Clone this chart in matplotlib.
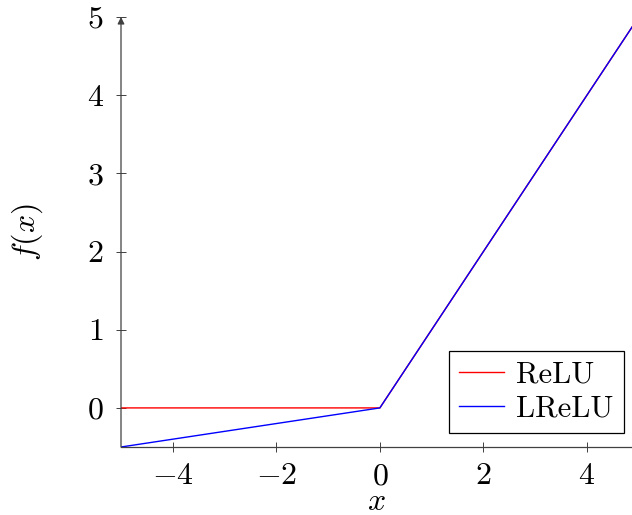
import numpy as np
import matplotlib.pyplot as plt

plt.rcParams['mathtext.fontset'] = 'cm'
plt.rcParams['font.family'] = 'serif'
plt.rcParams['font.serif'] = ['cmr10', 'DejaVu Serif']
plt.rcParams['axes.formatter.use_mathtext'] = True
plt.rcParams['axes.unicode_minus'] = True

# data
x_pts = [-5, 0, 5]
relu = [0, 0, 5]
lrelu = [-0.5, 0, 5]
x_ticks = [-4, -2, 0, 2, 4]
y_ticks = [0, 1, 2, 3, 4, 5]

fig = plt.figure(figsize=(6.32, 5.15), dpi=100)
ax = fig.add_axes([121 / 632, 1 - 447 / 515, 1 - 121 / 632, (447 - 17) / 515])

ax.plot(x_pts, relu, color='red', lw=1.0, label='ReLU')
ax.plot(x_pts, lrelu, color='blue', lw=1.0, label='LReLU')

ax.set_xlim(-5, 4.87)
ax.set_ylim(-0.5, 5)
ax.set_xticks(x_ticks)
ax.set_yticks(y_ticks)

axis_col = '#404040'
for s in ['top', 'right', 'left']:
    ax.spines[s].set_visible(False)
ax.spines['bottom'].set_color(axis_col)
ax.spines['bottom'].set_linewidth(0.9)
ax.annotate('', xy=(0, 1.0), xytext=(0, 0), xycoords='axes fraction',
            arrowprops=dict(arrowstyle='-|>', color=axis_col, lw=0.9,
                            mutation_scale=10, shrinkA=0, shrinkB=0))

ax.tick_params(direction='inout', length=7, width=0.7, color=axis_col,
               labelsize=23)
ax.tick_params(axis='x', pad=8)
ax.tick_params(axis='y', pad=9)

ax.set_xlabel('$x$', fontsize=23, labelpad=-1)
ax.set_ylabel('$f(x)$', fontsize=23, labelpad=30)

leg = ax.legend(loc='lower right', fontsize=22, handlelength=1.45,
                fancybox=False, framealpha=1, edgecolor='black',
                borderpad=0.35, labelspacing=0.2, handletextpad=0.4,
                borderaxespad=0)
leg.get_frame().set_linewidth(0.9)
leg.set_bbox_to_anchor((624 / 632, 1 - 433 / 515), transform=fig.transFigure)

fig.savefig('out.png', dpi=100)
